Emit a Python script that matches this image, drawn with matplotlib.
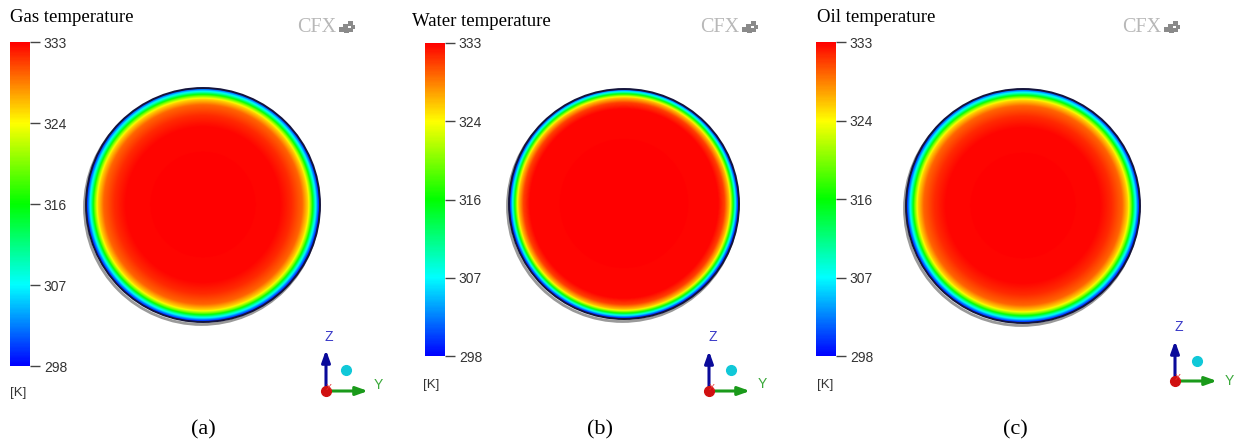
import numpy as np
import matplotlib
matplotlib.use('Agg')
import matplotlib.pyplot as plt
from matplotlib.colors import LinearSegmentedColormap, Normalize
from matplotlib.cm import ScalarMappable
from matplotlib.patches import Circle, Rectangle

# ---------------- data ----------------
titles = ['Gas temperature', 'Water temperature', 'Oil temperature']
panel_labels = ['(a)', '(b)', '(c)']
t_min, t_max = 298, 333
tick_values = [298, 306.75, 315.5, 324.25, 333]
tick_labels = ['298', '307', '316', '324', '333']
unit_label = '[K]'

# radial temperature profiles (normalised radius -> K)
gas_r = [0.0, 0.66, 0.76, 0.85, 0.90, 0.93, 0.955, 0.975, 0.99, 1.0]
gas_T = [333, 332.8, 331.5, 329.5, 325.5, 318.5, 310.0, 304.0, 300.0, 298.5]
water_r = [0.0, 0.82, 0.875, 0.92, 0.945, 0.963, 0.978, 0.99, 1.0]
water_T = [333, 332.8, 330.8, 326.0, 318.0, 310.0, 304.0, 300.0, 298.5]
oil_r = [0.0, 0.66, 0.76, 0.85, 0.90, 0.93, 0.955, 0.975, 0.99, 1.0]
oil_T = [333, 332.8, 331.5, 329.5, 325.5, 318.5, 310.0, 304.0, 300.0, 298.5]
profiles = [(gas_r, gas_T), (water_r, water_T), (oil_r, oil_T)]

# ---------------- layout (pixels) ----------------
W, H = 1236, 444
layout = [
    dict(title=(10, 18), cbar=(10, 42, 20, 324), unit=(10, 393), disc=(203, 205, 117),
         logo=(297, 28), triad=(326, 391, 350, 368), zlab=(329, 337), ylab=(378, 385),
         dot=(346, 370), plabel=(203, 430)),
    dict(title=(412, 22), cbar=(425, 43, 20, 313), unit=(423, 385), disc=(624, 204, 115),
         logo=(700, 28), triad=(709, 391, 351, 750), zlab=(713, 337), ylab=(762, 384),
         dot=(731, 370), plabel=(600, 430)),
    dict(title=(817, 18), cbar=(816, 42, 20, 314), unit=(817, 385), disc=(1023, 206, 117),
         logo=(1122, 28), triad=(1175, 381, 341, 1217), zlab=(1179, 327), ylab=(1229, 381),
         dot=(1197, 361), plabel=(1015, 430)),
]

cmap = LinearSegmentedColormap.from_list(
    'cfx_rainbow', ['#0000ff', '#00ffff', '#00ff00', '#ffff00', '#ff0000'])
norm = Normalize(t_min, t_max)

fig = plt.figure(figsize=(W / 100, H / 100), dpi=100)
ax = fig.add_axes([0, 0, 1, 1])
ax.set_xlim(0, W)
ax.set_ylim(H, 0)
ax.axis('off')

serif = ['Liberation Serif', 'DejaVu Serif']
sans = ['Liberation Sans', 'DejaVu Sans']

n = 500
g = np.linspace(-1, 1, n)
gx, gy = np.meshgrid(g, g)
rr = np.sqrt(gx ** 2 + gy ** 2)

for i, L in enumerate(layout):
    # title
    ax.text(L['title'][0], L['title'][1], titles[i], family=serif, fontsize=13.5,
            ha='left', va='center', color='black')
    # colorbar
    x, y, w, h = L['cbar']
    cax = fig.add_axes([x / W, 1 - (y + h) / H, w / W, h / H])
    cb = fig.colorbar(ScalarMappable(norm=norm, cmap=cmap), cax=cax)
    cb.set_ticks(tick_values, labels=tick_labels)
    cb.outline.set_visible(False)
    cax.tick_params(length=7, width=1.0, color='#444444', labelsize=10,
                    labelcolor='#333333', pad=3)
    for lab in cax.get_yticklabels():
        lab.set_family(sans)
    ax.text(L['unit'][0], L['unit'][1], unit_label, family=sans, fontsize=9.5,
            ha='left', va='center', color='#333333')
    # disc field
    cx, cy, r = L['disc']
    pr, pT = profiles[i]
    field = np.interp(np.minimum(rr, 1.0), pr, pT)
    shadow = Circle((cx - 1.5, cy + 2.5), r, facecolor='none', edgecolor='#9a9a9a',
                    lw=2.0, zorder=1)
    ax.add_patch(shadow)
    im = ax.imshow(field, extent=(cx - r, cx + r, cy + r, cy - r), cmap=cmap,
                   norm=norm, interpolation='bilinear', zorder=2)
    clip = Circle((cx, cy), r, transform=ax.transData)
    im.set_clip_path(clip)
    ax.add_patch(Circle((cx, cy), r, facecolor='none', edgecolor='#14143c',
                        lw=1.4, zorder=3))
    # CFX logo
    lx, ly = L['logo']
    ax.text(lx, ly, 'CFX', family=serif, fontsize=14.5, color='#b8b8b8',
            ha='left', va='center')
    for (dx, dy, s) in [(42, 2, 5), (46, -1, 5), (51, -4, 5), (54, -1, 4),
                        (47, 3, 5), (52, 2, 4)]:
        ax.add_patch(Rectangle((lx + dx, ly + dy - s / 2), s, s, color='#8a8a8a',
                               lw=0, zorder=3))
    # axis triad
    ox, oy, ztip, ytip = L['triad']
    ax.annotate('', xy=(ox, ztip), xytext=(ox, oy),
                arrowprops=dict(arrowstyle='-|>,head_length=0.7,head_width=0.25',
                                color='#0a0a9a', lw=2.2, shrinkA=0, shrinkB=0), zorder=4)
    ax.annotate('', xy=(ytip, oy), xytext=(ox, oy),
                arrowprops=dict(arrowstyle='-|>,head_length=0.7,head_width=0.25',
                                color='#1a9a1a', lw=2.2, shrinkA=0, shrinkB=0), zorder=4)
    ax.plot(ox, oy, 'o', color='#d01010', ms=7, zorder=5)
    ax.text(ox + 3, oy - 4, 'X', family=sans, fontsize=6.5, color='#e83030',
            ha='center', va='center', zorder=6)
    ax.text(L['zlab'][0], L['zlab'][1], 'Z', family=sans, fontsize=10,
            color='#3a3ac8', ha='center', va='center')
    ax.text(L['ylab'][0], L['ylab'][1], 'Y', family=sans, fontsize=10,
            color='#3aa83a', ha='center', va='center')
    ax.plot(L['dot'][0], L['dot'][1], 'o', color='#10c8d8', ms=7, zorder=4)
    # panel label
    ax.text(L['plabel'][0], L['plabel'][1], panel_labels[i], family=serif,
            fontsize=16, ha='center', va='center', color='black')

fig.savefig('out.png', dpi=100)
